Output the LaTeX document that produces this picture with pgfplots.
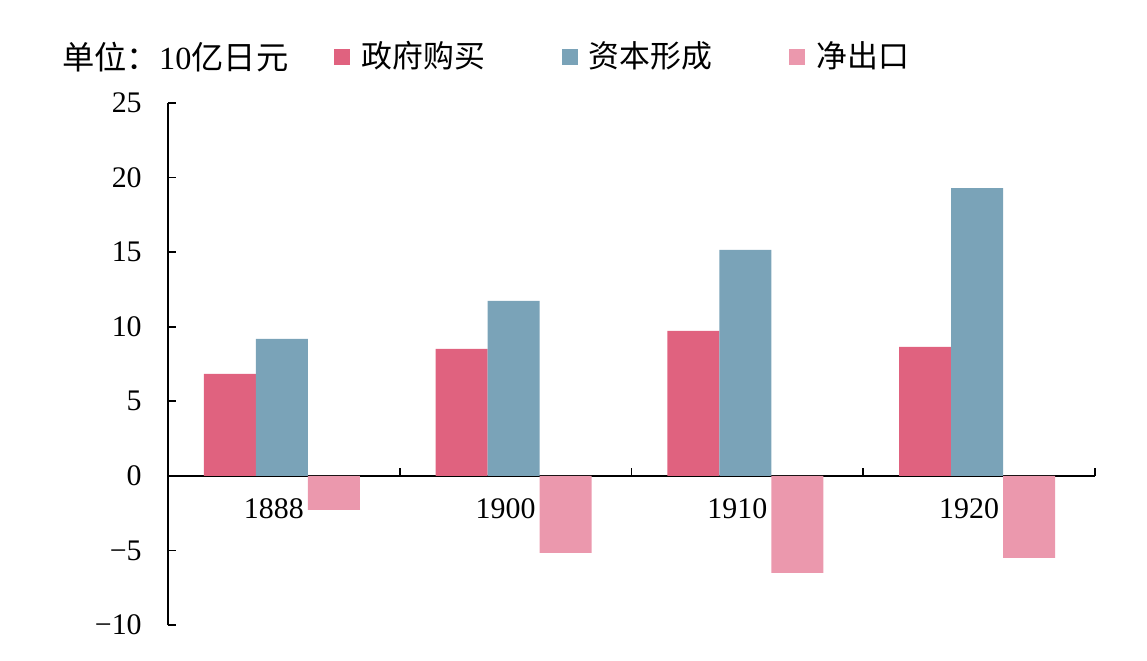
\documentclass[border=0pt]{standalone}
\usepackage{fontspec}
\setmainfont{Liberation Serif}
\newfontfamily\cjk{Noto Sans CJK SC}
\usepackage{pgfplots}
\pgfplotsset{compat=1.18}
\definecolor{cred}{HTML}{E0627F}
\definecolor{cblue}{HTML}{7AA3B8}
\definecolor{cpink}{HTML}{EB98AD}
\begin{document}
\fontsize{15}{18}\selectfont
\begin{tikzpicture}
\useasboundingbox (0,0) rectangle (573.5bp,330.5bp);
\begin{axis}[
  at={(84bp,18bp)}, anchor=south west,
  scale only axis, width=463.5bp, height=261bp,
  xmin=-0.5, xmax=3.5, ymin=-10, ymax=25,
  axis y line*=left, axis x line*=middle,
  hide obscured x ticks=false, hide obscured y ticks=false,
  axis line style={line width=1pt, black},
  ytick={-10,-5,0,5,10,15,20,25},
  yticklabels={−10,−5,0,5,10,15,20,25},
  xtick={-0.5,0.5,1.5,2.5,3.5},
  x tick label as interval,
  xticklabels={1888,1900,1910,1920},
  tick align=inside,
  major tick length=4bp,
  tick style={line width=0.8pt, black},
  xtick style={yshift=4bp},
  ticklabel style={font=\fontsize{15}{18}\selectfont},
  yticklabel style={xshift=-8bp},
  xticklabel style={yshift=-2bp, xshift=-5bp},
  ybar=0pt, bar width=26bp,
  legend style={draw=none, fill=none, at={(rel axis cs:0,1)}, anchor=west,
    xshift=80bp, yshift=23bp, font=\cjk\fontsize{15.5}{18}\selectfont,
    /tikz/every even column/.append style={column sep=36.5bp},
    /tikz/every odd column/.append style={column sep=3.5bp}},
  legend columns=3,
  legend image code/.code={\fill[#1] (0bp,-4bp) rectangle (8bp,4bp);},
]
\addplot[fill=cred, draw=none, bar shift=-27bp] coordinates {(0,6.84) (1,8.51) (2,9.72) (3,8.65)};
\addplot[fill=cblue, draw=none, bar shift=-1bp] coordinates {(0,9.18) (1,11.73) (2,15.15) (3,19.3)};
\addplot[fill=cpink, draw=none, bar shift=25bp] coordinates {(0,-2.28) (1,-5.16) (2,-6.5) (3,-5.5)};
\legend{政府购买,资本形成,净出口}
\end{axis}
\node[anchor=west, inner sep=0pt] at (31bp,302bp) {{\cjk\fontsize{16.2}{18}\selectfont 单位：}\fontsize{16.2}{18}\selectfont 10{\cjk\fontsize{16.2}{18}\selectfont 亿日元}};
\end{tikzpicture}
\end{document}
